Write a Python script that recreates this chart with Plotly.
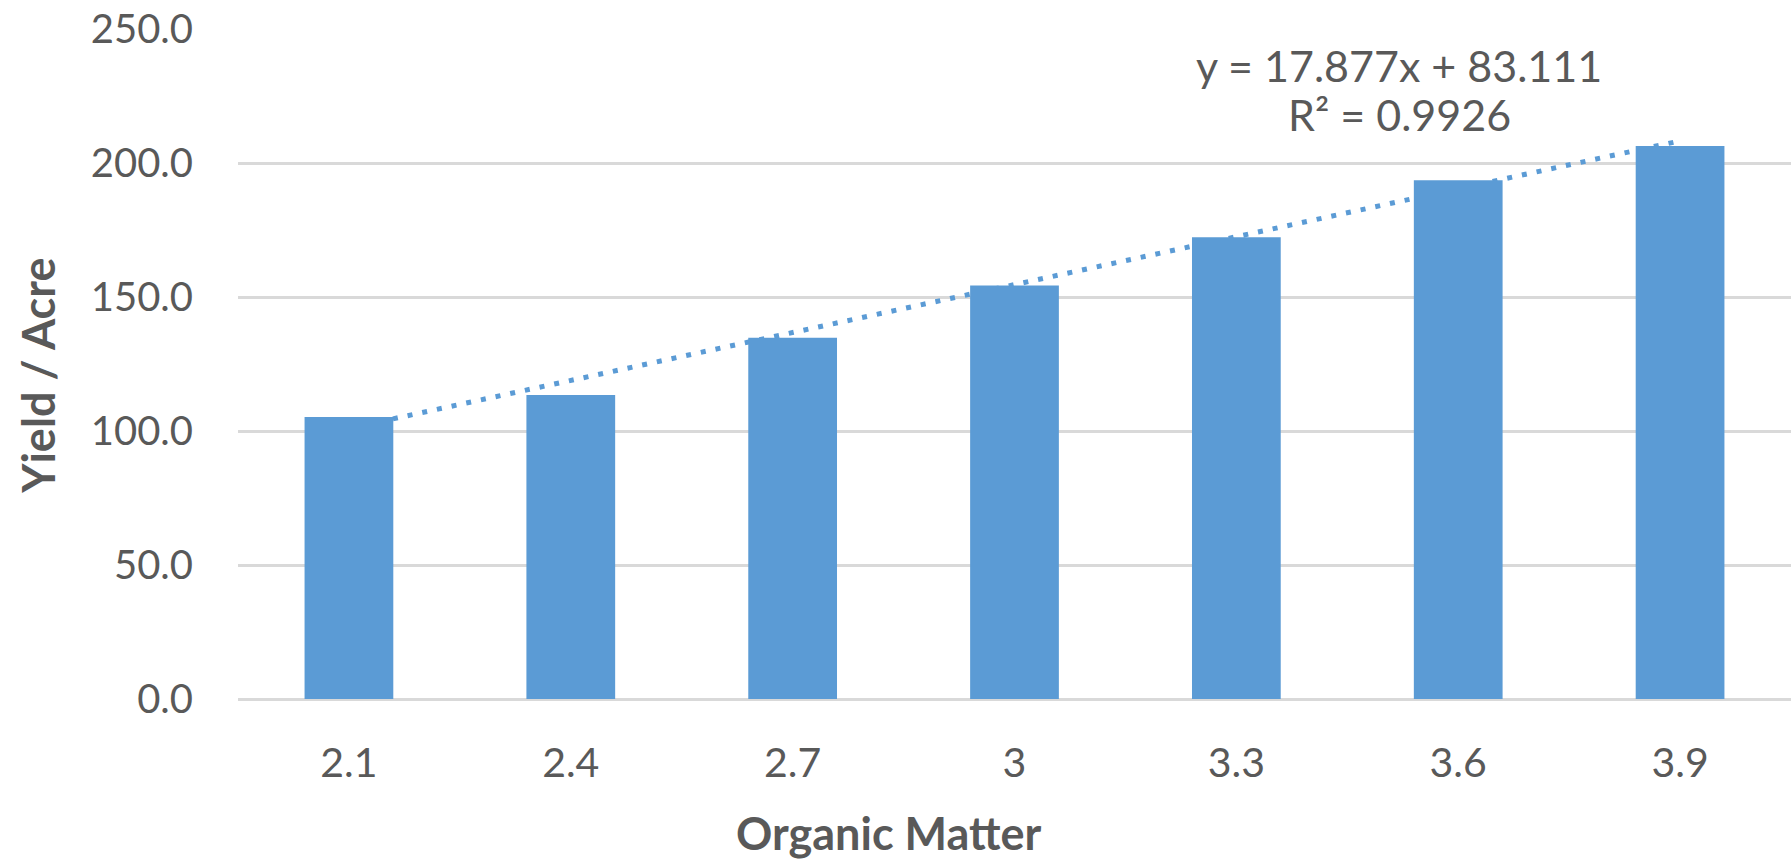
import plotly.graph_objects as go

# Organic matter (%) categories and corn yield per acre
organic_matter = ["2.1", "2.4", "2.7", "3", "3.3", "3.6", "3.9"]
yield_per_acre = [105.2, 113.4, 134.8, 154.3, 172.3, 193.6, 206.3]

# Linear trendline over category index (1..n)
trend_slope = 17.877
trend_intercept = 83.111
trend_r2 = 0.9926

y_ticks = [0, 50, 100, 150, 200, 250]

GRAY = "#595959"
BLUE = "#5B9BD5"
GRID = "#D9D9D9"
FONT = "Lato"

fig = go.Figure()

fig.add_trace(go.Bar(
    x=organic_matter,
    y=yield_per_acre,
    marker=dict(color=BLUE, line=dict(width=0)),
    showlegend=False,
    hoverinfo="x+y",
))

# Dotted trendline sits behind the bars, above the gridlines.
# On a category axis numeric shape coordinates are category positions (0-based).
n = len(organic_matter)
fig.add_shape(
    type="line",
    xref="x", yref="y",
    x0=0, y0=trend_slope * 1 + trend_intercept,
    x1=n - 1, y1=trend_slope * n + trend_intercept,
    line=dict(color=BLUE, width=5, dash="5px,10px"),
    layer="between",
)

fig.add_annotation(
    xref="paper", yref="paper", x=0.7477, y=0.9457,
    text=f"y = {trend_slope}x + {trend_intercept}",
    showarrow=False, xanchor="center", yanchor="middle",
    font=dict(family=FONT, size=43, color=GRAY),
)
fig.add_annotation(
    xref="paper", yref="paper", x=0.7477, y=0.8726,
    text=f"R² = {trend_r2}",
    showarrow=False, xanchor="center", yanchor="middle",
    font=dict(family=FONT, size=43, color=GRAY),
)

# Axis titles
fig.add_annotation(
    xref="paper", yref="paper", x=0.4187, y=-0.2,
    text="<b>Organic Matter</b>",
    showarrow=False, xanchor="center", yanchor="middle",
    font=dict(family=FONT, size=45, color=GRAY),
)
fig.add_annotation(
    xref="paper", yref="paper", x=-0.129, y=0.482,
    text="<b>Yield / Acre</b>", textangle=-90,
    showarrow=False, xanchor="center", yanchor="middle",
    font=dict(family=FONT, size=45, color=GRAY),
)

fig.update_layout(
    width=1791, height=861,
    margin=dict(l=238, r=0, t=29, b=162),
    paper_bgcolor="white", plot_bgcolor="white",
    bargap=0.6,
    font=dict(family=FONT, color=GRAY),
    xaxis=dict(
        type="category",
        showgrid=False, showline=False, zeroline=False,
        ticks="", ticklabelstandoff=36,
        tickfont=dict(family=FONT, size=41, color=GRAY),
    ),
    yaxis=dict(
        range=[0, 250], tickvals=y_ticks, tickformat=".1f",
        showgrid=True, gridcolor=GRID, gridwidth=3,
        zeroline=True, zerolinecolor=GRID, zerolinewidth=3,
        showline=False, ticks="", ticklabelstandoff=44,
        tickfont=dict(family=FONT, size=40, color=GRAY),
    ),
)

fig.write_html("out.html")
